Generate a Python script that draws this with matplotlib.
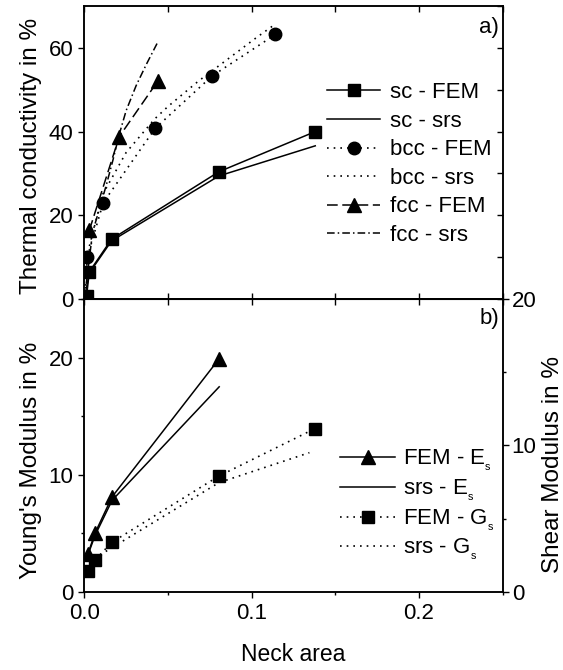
import matplotlib
matplotlib.use("Agg")
from matplotlib import pyplot as plt
from matplotlib.ticker import MultipleLocator

plt.rcParams['font.family'] = ['Liberation Sans', 'DejaVu Sans']
plt.rcParams['font.size'] = 16
plt.rcParams['mathtext.default'] = 'regular'

# thermal conductivity vs neck area (panel a)
neck_sc_fem = [0.0014, 0.003, 0.0163, 0.0804, 0.138]
k_sc_fem = [0.8, 6.5, 14.3, 30.4, 40.0]
neck_sc_srs = [0.0, 0.003, 0.0163, 0.0804, 0.138]
k_sc_srs = [0.0, 6.2, 13.9, 29.4, 36.6]

neck_bcc_fem = [0.0018, 0.0113, 0.0424, 0.0764, 0.1142]
k_bcc_fem = [10.0, 23.0, 40.8, 53.3, 63.2]
neck_bcc_srs = [0.0, 0.002, 0.011, 0.025, 0.042, 0.05, 0.068, 0.083, 0.093, 0.103, 0.1128]
k_bcc_srs = [0.0, 11.0, 25.0, 35.0, 43.0, 46.0, 52.0, 56.5, 59.5, 62.5, 65.3]

neck_fcc_fem = [0.003, 0.0209, 0.0438]
k_fcc_fem = [16.4, 38.8, 52.0]
neck_fcc_srs = [0.0, 0.005, 0.009, 0.013, 0.017, 0.021, 0.025, 0.031, 0.037, 0.0438]
k_fcc_srs = [0.0, 16.0, 21.5, 27.0, 33.0, 39.5, 45.0, 51.0, 56.0, 61.3]

# elastic moduli vs neck area (panel b)
neck_es_fem = [0.0021, 0.0064, 0.0166, 0.0806]
e_fem = [3.2, 5.0, 8.1, 19.9]
neck_es_srs = [0.0021, 0.0064, 0.0166, 0.0806]
e_srs = [3.1, 4.8, 7.8, 17.5]

neck_gs_fem = [0.0024, 0.0064, 0.0164, 0.0804, 0.1379]
g_fem = [1.43, 2.16, 3.37, 7.9, 11.15]
neck_gs_srs = [0.0024, 0.0064, 0.0114, 0.0804, 0.1345]
g_srs = [1.4, 2.1, 2.65, 7.45, 9.5]

dot = (0, (1, 3))
tl, tl_minor = 4.5, 2.5
fig = plt.figure(figsize=(5.63, 6.7), dpi=100)
ax1 = fig.add_axes([0.1497, 0.5537, 0.7432, 0.4373])
ax2 = fig.add_axes([0.1497, 0.1169, 0.7432, 0.4368])

ms = 8
ax1.plot(neck_sc_fem, k_sc_fem, color='k', lw=1.1, marker='s', ms=ms, label='sc - FEM')
ax1.plot(neck_sc_srs, k_sc_srs, color='k', lw=1.1, label='sc - srs')
ax1.plot(neck_bcc_fem, k_bcc_fem, color='k', lw=1.2, ls=dot, marker='o', ms=ms + 1, label='bcc - FEM')
ax1.plot(neck_bcc_srs, k_bcc_srs, color='k', lw=1.2, ls=dot, label='bcc - srs')
ax1.plot(neck_fcc_fem, k_fcc_fem, color='k', lw=1.1, ls=(0, (7, 3)), marker='^', ms=ms + 2, label='fcc - FEM')
ax1.plot(neck_fcc_srs, k_fcc_srs, color='k', lw=1.1, ls=(0, (5, 2, 1, 2)), label='fcc - srs')

ax1.set_xlim(0, 0.25)
ax1.set_ylim(0, 70)
ax1.set_ylabel('Thermal conductivity in %', fontsize=17.5)
ax1.yaxis.set_major_locator(MultipleLocator(20))
ax1.xaxis.set_major_locator(MultipleLocator(0.05))
ax1.tick_params(axis='y', which='major', direction='out', length=tl, width=1, left=True, right=False)
ax1.tick_params(axis='x', which='major', direction='in', length=tl, width=1,
                top=True, bottom=True, labelbottom=False)
ax1r = ax1.twinx()
ax1r.set_ylim(0, 70)
ax1r.yaxis.set_major_locator(MultipleLocator(10))
ax1r.tick_params(axis='y', direction='in', length=tl, width=1, labelright=False)
ax1.text(0.991, 0.928, 'a)', transform=ax1.transAxes, ha='right', va='center')
ax1.legend(loc='upper left', bbox_to_anchor=(0.58, 0.74), frameon=False,
           handlelength=2.4, handletextpad=0.43, labelspacing=0.34, borderpad=0,
           borderaxespad=0, fontsize=16)

ax2.plot(neck_es_fem, e_fem, color='k', lw=1.1, marker='^', ms=ms + 2, label='FEM - E${}_{{}_{s}}$')
ax2.plot(neck_es_srs, e_srs, color='k', lw=1.1, label='srs - E${}_{{}_{s}}$')
ax2g = ax2.twinx()
ax2g.plot(neck_gs_fem, g_fem, color='k', lw=1.2, ls=dot, marker='s', ms=ms, label='FEM - G${}_{{}_{s}}$')
ax2g.plot(neck_gs_srs, g_srs, color='k', lw=1.2, ls=dot, label='srs - G${}_{{}_{s}}$')

ax2.set_xlim(0, 0.25)
ax2.set_ylim(0, 25)
ax2g.set_ylim(0, 20)
ax2.set_xlabel('Neck area', labelpad=14, fontsize=16.5)
ax2.set_ylabel("Young's Modulus in %", fontsize=17.5)
ax2g.set_ylabel('Shear Modulus in %', fontsize=17.5)
ax2.xaxis.set_major_locator(MultipleLocator(0.1))
ax2.xaxis.set_minor_locator(MultipleLocator(0.05))
ax2.yaxis.set_major_locator(MultipleLocator(10))
ax2.yaxis.set_minor_locator(MultipleLocator(5))
ax2g.yaxis.set_major_locator(MultipleLocator(10))
ax2g.yaxis.set_minor_locator(MultipleLocator(5))
ax2.tick_params(axis='both', which='major', direction='out', length=tl, width=1)
ax2.tick_params(axis='both', which='minor', direction='out', length=tl_minor, width=1)
ax2g.tick_params(axis='y', which='major', direction='out', length=tl, width=1, pad=2)
ax2g.tick_params(axis='y', which='minor', direction='out', length=tl_minor, width=1)
ax2.xaxis.set_major_formatter(plt.FuncFormatter(lambda v, p: f'{v:.1f}'))

# inward ticks along the shared edge between the panels
ax2t = ax2.secondary_xaxis('top')
ax2t.xaxis.set_major_locator(MultipleLocator(0.05))
ax2t.tick_params(direction='in', length=tl, width=1, labeltop=False)

ax2.text(0.991, 0.935, 'b)', transform=ax2.transAxes, ha='right', va='center')
h1, l1 = ax2.get_legend_handles_labels()
h2, l2 = ax2g.get_legend_handles_labels()
ax2g.legend(h1 + h2, l1 + l2, loc='upper left', bbox_to_anchor=(0.611, 0.49), frameon=False,
            handlelength=2.5, handletextpad=0.32, labelspacing=0.2, borderpad=0,
            borderaxespad=0, fontsize=16)

for a in (ax1, ax1r, ax2, ax2g):
    for s in a.spines.values():
        s.set_linewidth(1.1)

ax1.yaxis.set_label_coords(-0.10, 0.488)
ax2.yaxis.set_label_coords(-0.10, 0.45)
ax2g.yaxis.set_label_coords(1.094, 0.433)

fig.savefig('out.png', dpi=100)
